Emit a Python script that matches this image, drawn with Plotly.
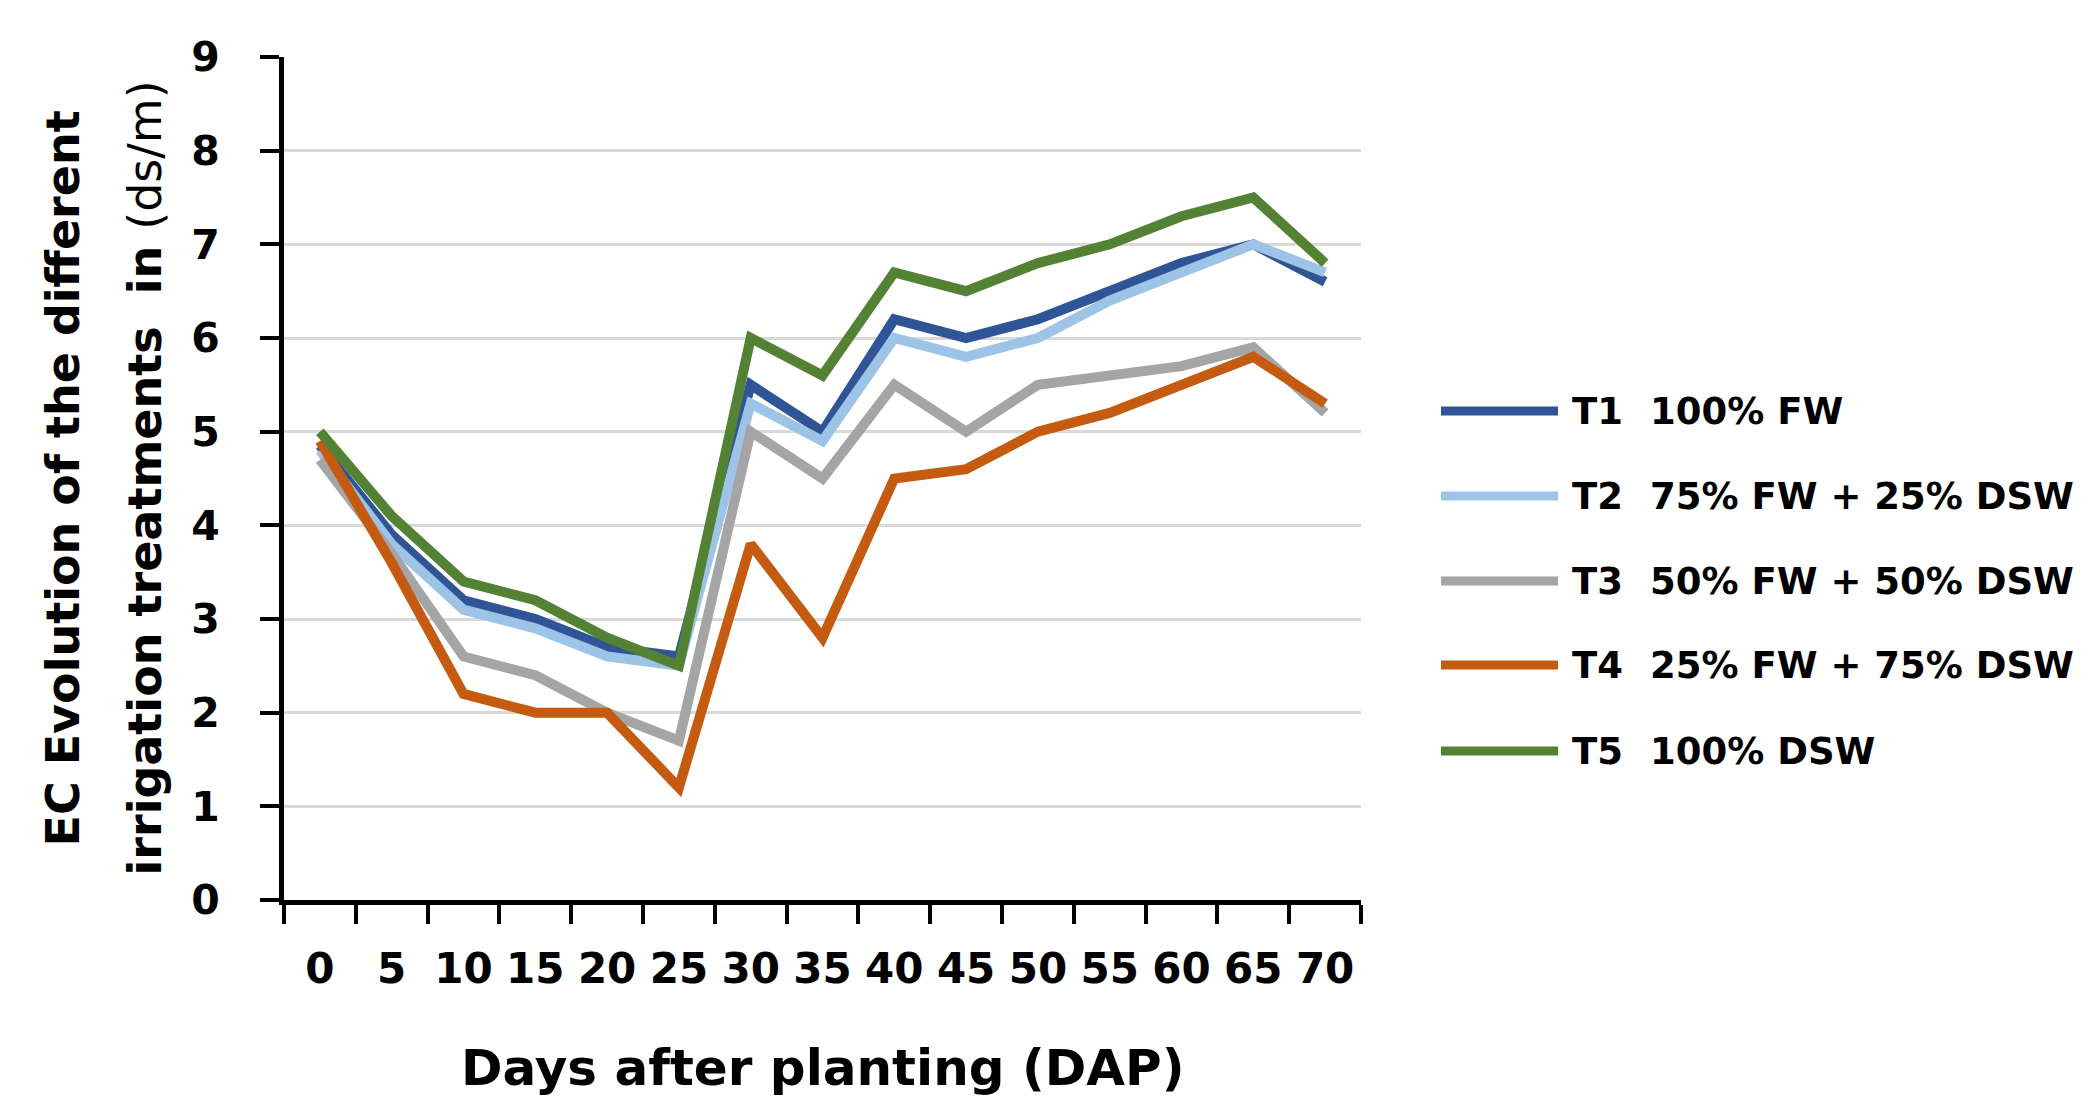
import plotly.graph_objects as go

# --- data ---
days = [0, 5, 10, 15, 20, 25, 30, 35, 40, 45, 50, 55, 60, 65, 70]

t1 = [4.85, 3.9, 3.2, 3.0, 2.7, 2.6, 5.5, 5.0, 6.2, 6.0, 6.2, 6.5, 6.8, 7.0, 6.6]
t2 = [4.8, 3.8, 3.1, 2.9, 2.6, 2.5, 5.3, 4.9, 6.0, 5.8, 6.0, 6.4, 6.7, 7.0, 6.7]
t3 = [4.7, 3.7, 2.6, 2.4, 2.0, 1.7, 5.0, 4.5, 5.5, 5.0, 5.5, 5.6, 5.7, 5.9, 5.2]
t4 = [4.9, 3.6, 2.2, 2.0, 2.0, 1.2, 3.8, 2.8, 4.5, 4.6, 5.0, 5.2, 5.5, 5.8, 5.3]
t5 = [5.0, 4.1, 3.4, 3.2, 2.8, 2.5, 6.0, 5.6, 6.7, 6.5, 6.8, 7.0, 7.3, 7.5, 6.8]

codes = ["T1", "T2", "T3", "T4", "T5"]
labels = ["100% FW", "75% FW + 25% DSW", "50% FW + 50% DSW",
          "25% FW + 75% DSW", "100% DSW"]
colors = ["#2F5597", "#9DC3E6", "#A5A5A5", "#C55A11", "#548235"]

FONT = "DejaVu Sans"

# plot area in pixels (2100 x 1110 page)
L, R, T, B = 276, 1353, 49, 892
PW, PH = R - L, B - T


def px_x(x):
    return (x - L) / PW


def px_y(y):
    return (B - y) / PH


fig = go.Figure()

cats = [str(d) for d in days]
for code, lab, col, vals in zip(codes, labels, colors, [t1, t2, t3, t4, t5]):
    fig.add_trace(go.Scatter(
        x=cats, y=vals, mode="lines", name=f"{code} {lab}",
        line=dict(color=col, width=10), showlegend=False,
    ))

# hand-made legend (long line samples like the original)
legend_y = [403, 488, 573, 657, 743]
for code, lab, col, ly in zip(codes, labels, colors, legend_y):
    fig.add_shape(type="line", xref="paper", yref="paper",
                  x0=px_x(1433), x1=px_x(1550), y0=px_y(ly), y1=px_y(ly),
                  line=dict(color=col, width=9))
    fig.add_annotation(xref="paper", yref="paper", x=px_x(1562), y=px_y(ly),
                       text=code, showarrow=False, xanchor="left", yanchor="middle",
                       font=dict(family=FONT, size=37, color="black", weight="bold"))
    fig.add_annotation(xref="paper", yref="paper", x=px_x(1640), y=px_y(ly),
                       text=lab, showarrow=False, xanchor="left", yanchor="middle",
                       font=dict(family=FONT, size=37, color="black", weight="bold"))

# y-axis title, two lines
fig.add_annotation(xref="paper", yref="paper", x=px_x(54), y=0.5,
                   text="<b>EC Evolution of the different</b>", textangle=-90,
                   showarrow=False, xanchor="center", yanchor="middle",
                   font=dict(family=FONT, size=46, color="black"))
fig.add_annotation(xref="paper", yref="paper", x=px_x(136), y=0.5,
                   text="<b>irrigation treatments  in </b>(ds/m)", textangle=-90,
                   showarrow=False, xanchor="center", yanchor="middle",
                   font=dict(family=FONT, size=46, color="black"))

# x-axis title
fig.add_annotation(xref="paper", yref="paper", x=0.5, y=px_y(1060),
                   text="<b>Days after planting (DAP)</b>",
                   showarrow=False, xanchor="center", yanchor="middle",
                   font=dict(family=FONT, size=50, color="black"))

fig.update_xaxes(
    type="category", range=[-0.5, len(days) - 0.5], tickson="boundaries",
    ticks="outside", ticklen=19, tickwidth=4, tickcolor="black",
    showline=True, linecolor="black", linewidth=5, showgrid=False,
    tickangle=0, ticklabelstandoff=28,
    tickfont=dict(family=FONT, size=42, color="black", weight="bold"),
)
fig.update_yaxes(
    range=[0, 9], dtick=1, ticks="outside", ticklen=19, tickwidth=4,
    tickcolor="black", showline=True, linecolor="black", linewidth=5,
    showgrid=True, gridcolor="#D9D9D9", gridwidth=3, zeroline=False,
    ticklabelstandoff=32,
    tickfont=dict(family=FONT, size=41, color="black", weight="bold"),
)

fig.update_layout(
    width=2100, height=1110,
    margin=dict(l=L, r=2100 - R, t=T, b=1110 - B),
    plot_bgcolor="white", paper_bgcolor="white",
    font=dict(family=FONT, color="black"),
    showlegend=False,
)

fig.write_html("out.html")
